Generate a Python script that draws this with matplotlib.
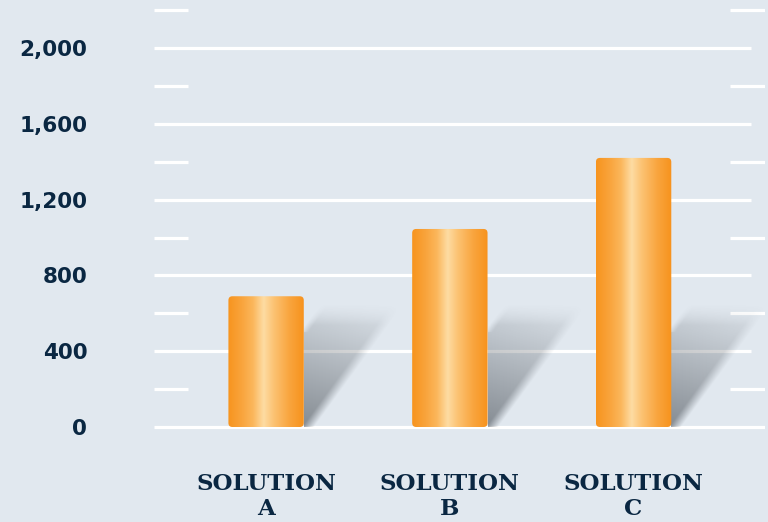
import numpy as np
import matplotlib
matplotlib.use("Agg")
import matplotlib.pyplot as plt
from matplotlib.patches import FancyBboxPatch
from matplotlib.colors import LinearSegmentedColormap

categories = ["SOLUTION\nA", "SOLUTION\nB", "SOLUTION\nC"]
values = [690, 1045, 1420]
major_ticks = [0, 400, 800, 1200, 1600, 2000]
major_labels = ["0", "400", "800", "1,200", "1,600", "2,000"]
minor_ticks = [200, 600, 1000, 1400, 1800, 2200]

BG = "#e1e8ef"
TXT = "#0a2742"

W, H, DPI = 768, 522, 100
fig = plt.figure(figsize=(W / DPI, H / DPI), dpi=DPI, facecolor=BG)
ax_l, ax_r, ax_t, ax_b = 154, 765, 5, 440
ax = fig.add_axes([ax_l / W, (H - ax_b) / H, (ax_r - ax_l) / W, (ax_b - ax_t) / H])
ax.set_facecolor(BG)
for s in ax.spines.values():
    s.set_visible(False)

xmin, xmax = -0.61, 2.715
px_per_y = 379 / 2000.0
ymin = -(440 - 427) / px_per_y
ymax = (427 - 5) / px_per_y
ax.set_xlim(xmin, xmax)
ax.set_ylim(ymin, ymax)
px_per_x = (ax_r - ax_l) / (xmax - xmin)

def px2x(p):
    return p / px_per_x

def px2y(p):
    return p / px_per_y

# grid lines
lw = 2.3
grid_end = xmin + px2x(751 - ax_l)
for t in major_ticks:
    ax.hlines(t, xmin, xmax if t == 0 else grid_end, colors="white", lw=lw, zorder=1)
for t in minor_ticks:
    ax.hlines(t, xmin, xmin + px2x(34), colors="white", lw=lw, zorder=1)
    ax.hlines(t, xmax - px2x(35), xmax, colors="white", lw=lw, zorder=1)

xpos = np.arange(len(categories))
bars = ax.bar(xpos, values, width=0.41, color="none", edgecolor="none", zorder=3)

cmap = LinearSegmentedColormap.from_list(
    "bar",
    [(0.0, "#f7941e"), (0.18, "#f9a43c"), (0.33, "#fbb75c"), (0.47, "#fedca3"),
     (0.6, "#fcc374"), (0.8, "#f9a640"), (1.0, "#f7921c")],
)
grad = np.linspace(0, 1, 256).reshape(1, -1)

# shadow geometry in pixels
SH_W, SH_H = 115, 135
uu, hh = np.meshgrid(np.linspace(0, SH_W, 230), np.linspace(0, SH_H, 270))
right = 4 + 0.73 * hh
left = np.maximum(0, 0.73 * (hh - 95))
soft_r = np.clip((right - uu) / 12 + 0.5, 0, 1)
soft_l = np.clip((uu - left) / 8 + 0.5, 0, 1)
soft_l[left <= 0] = 1
soft_t = np.clip((124 - hh) / 22, 0, 1) ** 1.2
base = 0.6 - 0.46 * (hh / 117.0) - 0.08 * np.clip((uu - left) / 70, 0, 1)
alpha = np.clip(base * soft_r * soft_l * soft_t, 0, 1)
shadow = np.zeros(hh.shape + (4,))
shadow[..., 0] = 0x48 / 255
shadow[..., 1] = 0x4e / 255
shadow[..., 2] = 0x55 / 255
shadow[..., 3] = alpha

for b in bars:
    x0, y0 = b.get_x(), b.get_y()
    w, h = b.get_width(), b.get_height()
    rs = px2x(4)
    patch = FancyBboxPatch((x0, y0), w, h,
                           boxstyle=f"round,pad=0,rounding_size={rs}",
                           mutation_aspect=px_per_x / px_per_y,
                           fc="none", ec="none", transform=ax.transData, zorder=3)
    ax.add_patch(patch)
    im = ax.imshow(grad, cmap=cmap, extent=(x0, x0 + w, y0, y0 + h),
                   aspect="auto", zorder=3, interpolation="bilinear")
    im.set_clip_path(patch)
    xr = x0 + w
    ax.imshow(shadow, extent=(xr, xr + px2x(SH_W), 0, px2y(SH_H)), origin="lower",
              aspect="auto", zorder=2, interpolation="bilinear")

ax.set_xlim(xmin, xmax)
ax.set_ylim(ymin, ymax)

ax.set_yticks(major_ticks)
ax.set_yticklabels(major_labels, fontsize=15.5, fontweight="bold", color=TXT,
                   family="DejaVu Sans")
ax.set_xticks(xpos)
ax.set_xticklabels(categories, fontsize=16.5, fontweight="heavy", color=TXT,
                   family="DejaVu Serif", linespacing=1.15)
ax.tick_params(axis="y", length=0, pad=48)
ax.tick_params(axis="x", length=0, pad=24)

fig.savefig("out.png", dpi=DPI, facecolor=BG)
